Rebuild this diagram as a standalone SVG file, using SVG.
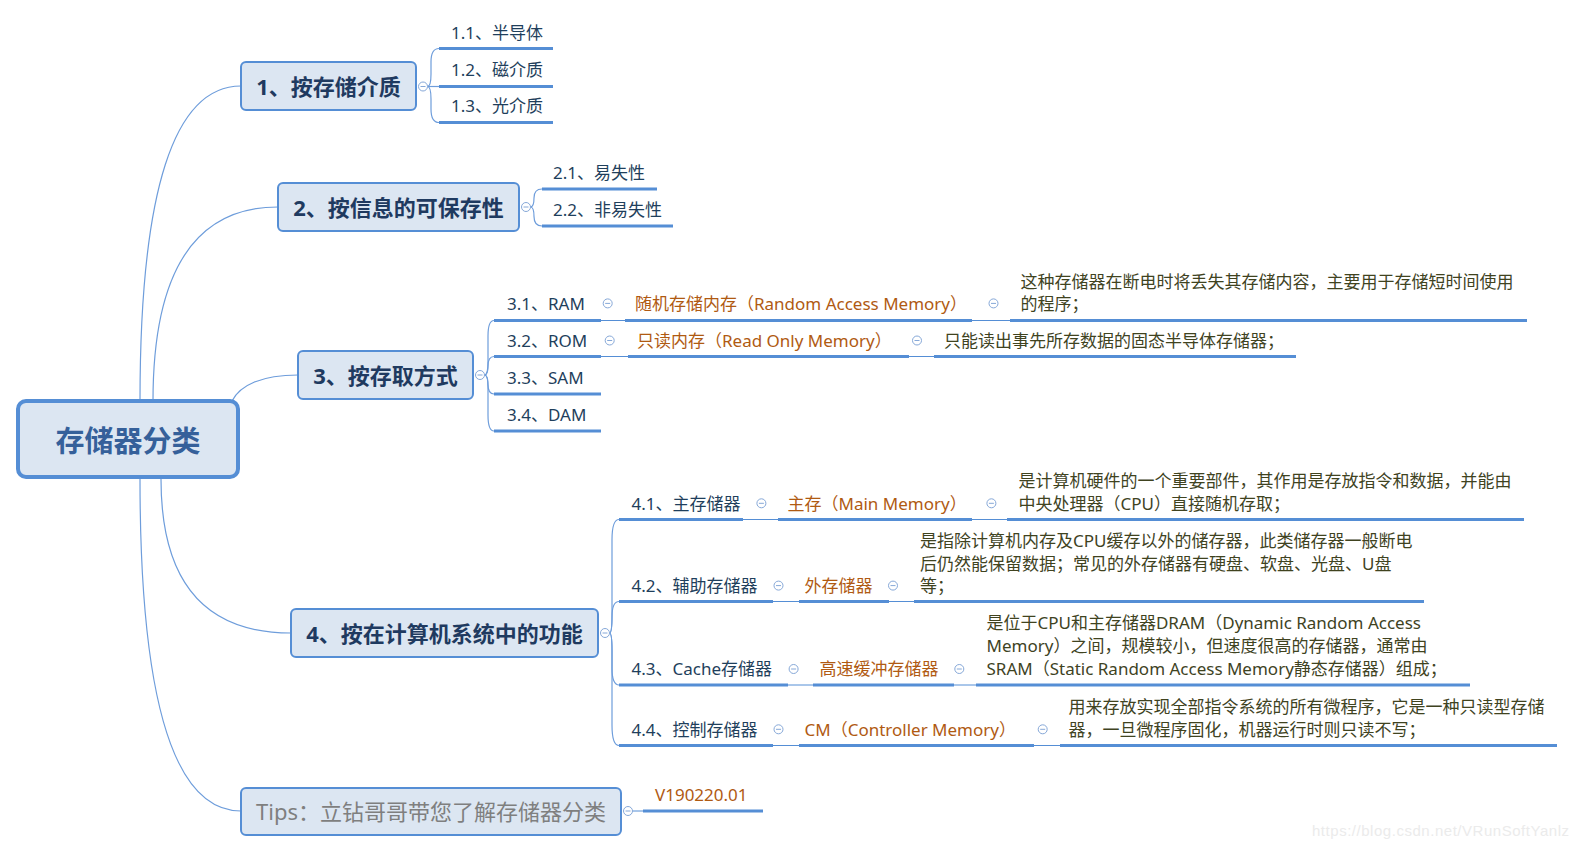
<svg xmlns="http://www.w3.org/2000/svg" width="1575" height="853" viewBox="0 0 1575 853">
<style>
text{font-family:"Noto Sans","Noto Sans CJK SC",sans-serif;}
.box{fill:#dce6f2;stroke:#558ed5;stroke-width:2;}
.root{fill:#dce6f2;stroke:#558ed5;stroke-width:4;}
.nt{font-size:22px;font-weight:bold;fill:#1f3a60;text-anchor:middle;dominant-baseline:central;}
.rt{font-size:29px;font-weight:bold;fill:#35609a;text-anchor:middle;dominant-baseline:central;}
.tt{font-size:22px;fill:#7f7f7f;text-anchor:middle;dominant-baseline:central;}
.ct{font-size:17px;fill:#1f3f5c;}
.ot{font-size:17px;fill:#b05a12;}
.dt{font-size:17px;fill:#40431f;}
.ul{stroke:#558ed5;stroke-width:3;fill:none;}
.th{stroke:#558ed5;stroke-width:1;fill:none;}
.cv{stroke:#6e9ddb;stroke-width:1.2;fill:none;}
.cc{fill:#ffffff;stroke:#86a8d8;stroke-width:1;}
.cm{stroke:#86a8d8;stroke-width:1;}
.wm{font-family:"Liberation Sans",Arial,sans-serif;font-size:15px;fill:#ebebeb;}
</style>
<defs>
<g id="col"><circle class="cc" r="4.5"/><line class="cm" x1="-2.5" y1="0" x2="2.5" y2="0"/></g>
</defs>

<g id="connectors">
<path class="cv" d="M140,401 Q140,86 241,86"/>
<path class="cv" d="M153,401 Q153,207 278,207"/>
<path class="cv" d="M232,401 C240,385 262,375 298,375"/>
<path class="cv" d="M161,479 Q161,633 291,633"/>
<path class="cv" d="M140,479 Q140,811 241,811"/>
<!-- group 1 brackets -->
<path class="cv" d="M427.5,86.5 Q431,86.5 431,74 L431,62 Q431,48.5 439,48.5"/>
<path class="cv" d="M427.5,86.5 H439"/>
<path class="cv" d="M427.5,86.5 Q431,86.5 431,99 L431,109 Q431,122.5 439,122.5"/>
<!-- group 2 -->
<path class="cv" d="M530.5,207 Q534,207 534,198 Q534,189 542,189"/>
<path class="cv" d="M530.5,207 Q534,207 534,216.5 Q534,226 542,226"/>
<!-- group 3 -->
<path class="cv" d="M484.5,375 Q488,375 488,362 L488,336 Q488,320.5 494,320.5"/>
<path class="cv" d="M484.5,375 Q488,375 488,366 Q488,356.5 494,356.5"/>
<path class="cv" d="M484.5,375 Q488,375 488,384.5 Q488,394 494,394"/>
<path class="cv" d="M484.5,375 Q488,375 488,388 L488,415 Q488,431 494,431"/>
<!-- group 4 -->
<path class="cv" d="M609.5,633 Q612,633 612,615 L612,540 Q612,519.5 619,519.5"/>
<path class="cv" d="M609.5,633 Q612,633 612,617 Q612,601.5 619,601.5"/>
<path class="cv" d="M609.5,633 Q612,633 612,650 L612,668 Q612,685 619,685"/>
<path class="cv" d="M609.5,633 Q612,633 612,651 L612,725 Q612,745.5 619,745.5"/>
<!-- tips -->
<path class="th" d="M632.5,811 H643"/>
<!-- thin row joins -->
<path class="th" d="M601,320.5 H625 M972,320.5 H1010"/>
<path class="th" d="M601,356.5 H628 M909,356.5 H934"/>
<path class="th" d="M743,519.5 H778 M972,519.5 H1007"/>
<path class="th" d="M773,601.5 H799 M889,601.5 H914"/>
<path class="th" d="M788,685 H813 M954,685 H976"/>
<path class="th" d="M773,745.5 H799 M1034,745.5 H1060"/>
</g>

<g id="root">
<rect class="root" x="18" y="401" width="220" height="76" rx="8"/>
<text class="rt" x="128" y="440">存储器分类</text>
</g>

<g id="n1">
<rect class="box" x="241" y="62" width="175" height="48" rx="5"/>
<text class="nt" x="328.5" y="86">1、按存储介质</text>
<use href="#col" x="423" y="86.5"/>
</g>
<g id="n1-1"><text class="ct" x="451" y="39">1.1、半导体</text><path class="ul" d="M439,48.5 H553"/></g>
<g id="n1-2"><text class="ct" x="451" y="75.5">1.2、磁介质</text><path class="ul" d="M439,86.5 H553"/></g>
<g id="n1-3"><text class="ct" x="451" y="112">1.3、光介质</text><path class="ul" d="M439,122.5 H553"/></g>

<g id="n2">
<rect class="box" x="278" y="183" width="241" height="48" rx="5"/>
<text class="nt" x="398.5" y="207">2、按信息的可保存性</text>
<use href="#col" x="526" y="207"/>
</g>
<g id="n2-1"><text class="ct" x="553" y="179">2.1、易失性</text><path class="ul" d="M542,189 H657"/></g>
<g id="n2-2"><text class="ct" x="553" y="215.5">2.2、非易失性</text><path class="ul" d="M542,226 H673"/></g>

<g id="n3">
<rect class="box" x="298" y="351" width="175" height="48" rx="5"/>
<text class="nt" x="385.5" y="375">3、按存取方式</text>
<use href="#col" x="480" y="375"/>
</g>
<g id="n3-1"><text class="ct" x="507" y="309.5">3.1、RAM</text><path class="ul" d="M494,320.5 H601"/><use href="#col" x="607.7" y="303.4"/></g>
<g id="n3-1a"><text class="ot" x="635" y="309.5">随机存储内存（Random Access Memory）</text><path class="ul" d="M625,320.5 H972"/><use href="#col" x="993.5" y="303.4"/></g>
<g id="n3-1b"><text class="dt" x="1020.5" y="287.5">这种存储器在断电时将丢失其存储内容，主要用于存储短时间使用</text><text class="dt" x="1020.5" y="310">的程序；</text><path class="ul" d="M1010,320.5 H1527"/></g>
<g id="n3-2"><text class="ct" x="507" y="346.5">3.2、ROM</text><path class="ul" d="M494,356.5 H601"/><use href="#col" x="609.7" y="340.5"/></g>
<g id="n3-2a"><text class="ot" x="637" y="346.5">只读内存（Read Only Memory）</text><path class="ul" d="M628,356.5 H909"/><use href="#col" x="917" y="340.5"/></g>
<g id="n3-2b"><text class="dt" x="944" y="346.5">只能读出事先所存数据的固态半导体存储器；</text><path class="ul" d="M934,356.5 H1296"/></g>
<g id="n3-3"><text class="ct" x="507" y="383.5">3.3、SAM</text><path class="ul" d="M494,394 H601"/></g>
<g id="n3-4"><text class="ct" x="507" y="420.5">3.4、DAM</text><path class="ul" d="M494,431 H601"/></g>

<g id="n4">
<rect class="box" x="291" y="609" width="307" height="48" rx="5"/>
<text class="nt" x="444.5" y="633">4、按在计算机系统中的功能</text>
<use href="#col" x="605" y="633"/>
</g>
<g id="n4-1"><text class="ct" x="631.5" y="509.5">4.1、主存储器</text><path class="ul" d="M619,519.5 H743"/><use href="#col" x="761.4" y="503.3"/></g>
<g id="n4-1a"><text class="ot" x="787.5" y="509.5">主存（Main Memory）</text><path class="ul" d="M778,519.5 H972"/><use href="#col" x="991.4" y="503.3"/></g>
<g id="n4-1b"><text class="dt" x="1018.5" y="486.5">是计算机硬件的一个重要部件，其作用是存放指令和数据，并能由</text><text class="dt" x="1018.5" y="509.5">中央处理器（CPU）直接随机存取；</text><path class="ul" d="M1007,519.5 H1524"/></g>
<g id="n4-2"><text class="ct" x="631.5" y="591.5">4.2、辅助存储器</text><path class="ul" d="M619,601.5 H773"/><use href="#col" x="778.5" y="585.6"/></g>
<g id="n4-2a"><text class="ot" x="804.5" y="591.5">外存储器</text><path class="ul" d="M799,601.5 H889"/><use href="#col" x="893" y="585.6"/></g>
<g id="n4-2b"><text class="dt" x="920" y="546.5">是指除计算机内存及CPU缓存以外的储存器，此类储存器一般断电</text><text class="dt" x="920" y="569.5">后仍然能保留数据；常见的外存储器有硬盘、软盘、光盘、U盘</text><text class="dt" x="920" y="591.5">等；</text><path class="ul" d="M914,601.5 H1424"/></g>
<g id="n4-3"><text class="ct" x="631.5" y="675">4.3、Cache存储器</text><path class="ul" d="M619,685 H788"/><use href="#col" x="793.6" y="669"/></g>
<g id="n4-3a"><text class="ot" x="819.5" y="675">高速缓冲存储器</text><path class="ul" d="M813,685 H954"/><use href="#col" x="959.3" y="669"/></g>
<g id="n4-3b"><text class="dt" x="986.5" y="629">是位于CPU和主存储器DRAM（Dynamic Random Access</text><text class="dt" x="986.5" y="652">Memory）之间，规模较小，但速度很高的存储器，通常由</text><text class="dt" x="986.5" y="675">SRAM（Static Random Access Memory静态存储器）组成；</text><path class="ul" d="M976,685 H1470"/></g>
<g id="n4-4"><text class="ct" x="631.5" y="735.5">4.4、控制存储器</text><path class="ul" d="M619,745.5 H773"/><use href="#col" x="778.5" y="729.3"/></g>
<g id="n4-4a"><text class="ot" x="804.5" y="735.5">CM（Controller Memory）</text><path class="ul" d="M799,745.5 H1034"/><use href="#col" x="1042.7" y="729.3"/></g>
<g id="n4-4b"><text class="dt" x="1068.5" y="712.5">用来存放实现全部指令系统的所有微程序，它是一种只读型存储</text><text class="dt" x="1068.5" y="735.5">器，一旦微程序固化，机器运行时则只读不写；</text><path class="ul" d="M1060,745.5 H1557"/></g>

<g id="tips">
<rect class="box" x="241" y="788" width="380" height="47" rx="5"/>
<text class="tt" x="431" y="811">Tips：立钻哥哥带您了解存储器分类</text>
<use href="#col" x="628" y="811"/>
</g>
<g id="tips-1"><text class="ot" x="655" y="801">V190220.01</text><path class="ul" d="M643,811 H763"/></g>

<text class="wm" x="1312" y="836" textLength="257">https://blog.csdn.net/VRunSoftYanlz</text>
</svg>
